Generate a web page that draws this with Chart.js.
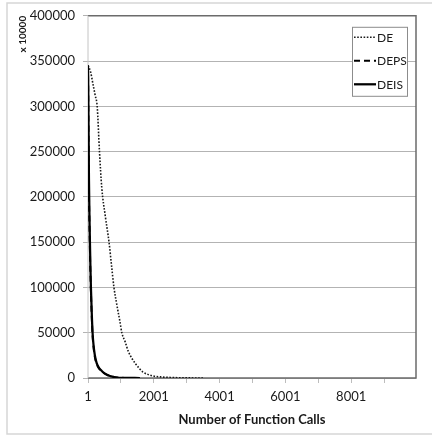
<!DOCTYPE html>
<html>
<head>
<meta charset="utf-8">
<script src="https://cdn.jsdelivr.net/npm/chart.js@4/dist/chart.umd.min.js"></script>
<style>
  html, body { margin: 0; padding: 0; background: #fff; }
  #wrap { width: 432px; height: 436px; position: relative; }
</style>
</head>
<body>
<div id="wrap"><canvas id="c" width="432" height="436"></canvas></div>
<script>
// Convergence of three DE variants: best value vs. number of function calls
const seriesNames = ['DE', 'DEPS', 'DEIS'];

const deCalls = [1, 80, 150, 220, 280, 350, 420, 530, 640, 720, 790, 872, 973, 1030, 1130, 1220, 1330, 1430, 1550, 1670, 1820, 1980, 2200, 2500, 2900, 3500];
const deValues = [345000, 338000, 325000, 312000, 300000, 250000, 210000, 178000, 150000, 123000, 100000, 82000, 62000, 50000, 40000, 30000, 22000, 16500, 11000, 6600, 4000, 2200, 1200, 600, 200, 0];

const depsCalls = [1, 10, 20, 30, 45, 60, 75, 90, 115, 140, 170, 210, 265, 330, 400, 455, 560, 670, 780, 880, 1100, 1580];
const depsValues = [345000, 300000, 250000, 205000, 170000, 140000, 115000, 95000, 68000, 47000, 34000, 23000, 15500, 10800, 8000, 6200, 3700, 2000, 1100, 450, 130, 0];

const deisCalls = [1, 10, 20, 30, 45, 60, 75, 90, 115, 140, 170, 210, 265, 330, 400, 455, 560, 670, 780, 880, 1100, 1580];
const deisValues = [345000, 320000, 270000, 220000, 180000, 150000, 122000, 100000, 72000, 50000, 36000, 25000, 16500, 11500, 8500, 6600, 4000, 2200, 1200, 500, 150, 0];

const xTickValues = [1, 1001, 2001, 3001, 4001, 5001, 6001, 7001, 8001, 9001];
const xLabelStep = 2000;
const xMax = 9971;
const yMax = 400000;
const yStep = 50000;

const toPoints = (xs, ys) => xs.map((x, i) => ({ x: x, y: ys[i] }));

const FONT = 'Lato, "Open Sans", "Liberation Sans", sans-serif';

// outer frame, plot border, and the in-plot legend box
const decor = {
  id: 'decor',
  beforeDraw(chart) {
    const ctx = chart.ctx;
    ctx.save();
    ctx.fillStyle = '#ffffff';
    ctx.fillRect(0, 0, chart.width, chart.height);
    ctx.strokeStyle = '#d6d6d6';
    ctx.lineWidth = 1.5;
    ctx.strokeRect(7, 3, chart.width + 20, 431);
    ctx.restore();
  },
  beforeDatasetsDraw(chart) {
    const { ctx, chartArea: a } = chart;
    ctx.save();
    ctx.strokeStyle = '#6b6b6b';
    ctx.lineWidth = 1.5;
    ctx.beginPath();
    ctx.moveTo(a.left, a.top);
    ctx.lineTo(a.right, a.top);
    ctx.lineTo(a.right, a.bottom);
    ctx.lineTo(a.left, a.bottom);
    ctx.stroke();
    ctx.strokeStyle = '#c4c4c4';
    ctx.lineWidth = 1;
    ctx.beginPath();
    ctx.moveTo(a.left, a.top);
    ctx.lineTo(a.left, a.bottom);
    ctx.stroke();
    ctx.restore();
  },
  afterDraw(chart) {
    const { ctx, chartArea: a } = chart;
    const boxW = 55, boxH = 69;
    const bx = a.right - 64, by = a.top + 11;
    ctx.save();
    ctx.fillStyle = '#ffffff';
    ctx.fillRect(bx, by, boxW, boxH);
    ctx.strokeStyle = '#8c8c8c';
    ctx.lineWidth = 1;
    ctx.strokeRect(bx + 0.5, by + 0.5, boxW, boxH);
    ctx.font = '12px ' + FONT;
    ctx.textBaseline = 'middle';
    ctx.textAlign = 'left';
    chart.data.datasets.forEach((ds, i) => {
      const y = by + 10.5 + i * 23.5;
      ctx.strokeStyle = ds.borderColor;
      ctx.lineWidth = ds.borderWidth;
      ctx.setLineDash(ds.borderDash || []);
      ctx.beginPath();
      ctx.moveTo(bx + 2, y);
      ctx.lineTo(bx + 24, y);
      ctx.stroke();
      ctx.setLineDash([]);
      ctx.fillStyle = '#1a1a1a';
      ctx.fillText(ds.label, bx + 25, y + 0.5);
    });
    ctx.restore();
  }
};

new Chart(document.getElementById('c'), {
  type: 'line',
  data: {
    datasets: [
      {
        label: seriesNames[0],
        data: toPoints(deCalls, deValues),
        borderColor: '#1a1a1a',
        borderWidth: 1.6,
        borderDash: [1.6, 1.6],
        order: 2
      },
      {
        label: seriesNames[1],
        data: toPoints(depsCalls, depsValues),
        borderColor: '#000000',
        borderWidth: 2,
        borderDash: [6, 4],
        order: 1
      },
      {
        label: seriesNames[2],
        data: toPoints(deisCalls, deisValues),
        borderColor: '#000000',
        borderWidth: 2.25,
        order: 0
      }
    ]
  },
  options: {
    responsive: false,
    animation: false,
    devicePixelRatio: 1,
    layout: { padding: { left: 8, top: 14, right: 16, bottom: 0 } },
    elements: {
      point: { radius: 0 },
      line: { cubicInterpolationMode: 'monotone', fill: false }
    },
    plugins: {
      legend: { display: false },
      tooltip: { enabled: false }
    },
    scales: {
      x: {
        type: 'linear',
        min: 1,
        max: xMax,
        afterBuildTicks(scale) {
          scale.ticks = xTickValues.map(v => ({ value: v }));
        },
        afterFit(scale) { scale.height = 58; },
        ticks: {
          autoSkip: false,
          maxRotation: 0,
          padding: 6,
          color: '#1a1a1a',
          font: { family: FONT, size: 13 },
          callback: (v) => ((v - 1) % xLabelStep === 0 ? String(v) : '')
        },
        grid: {
          drawOnChartArea: false,
          drawTicks: true,
          tickLength: 5,
          color: '#bdbdbd'
        },
        border: { display: false },
        title: {
          display: true,
          text: 'Number of Function Calls',
          color: '#1a1a1a',
          font: { family: FONT, size: 13, weight: 'bold' },
          padding: { top: 0, bottom: 8 }
        }
      },
      y: {
        min: 0,
        max: yMax,
        afterFit(scale) { scale.width = 80; },
        ticks: {
          stepSize: yStep,
          padding: 8,
          color: '#1a1a1a',
          font: { family: FONT, size: 13 },
          callback: (v) => String(v)
        },
        grid: {
          color: '#b3b3b3',
          lineWidth: 1,
          drawTicks: true,
          tickLength: 5
        },
        border: { display: false },
        title: {
          display: true,
          text: 'x 10000',
          align: 'end',
          color: '#1a1a1a',
          font: { family: FONT, size: 10, weight: 'bold' },
          padding: { top: 9, bottom: 0 }
        }
      }
    }
  },
  plugins: [decor]
});
</script>
</body>
</html>
